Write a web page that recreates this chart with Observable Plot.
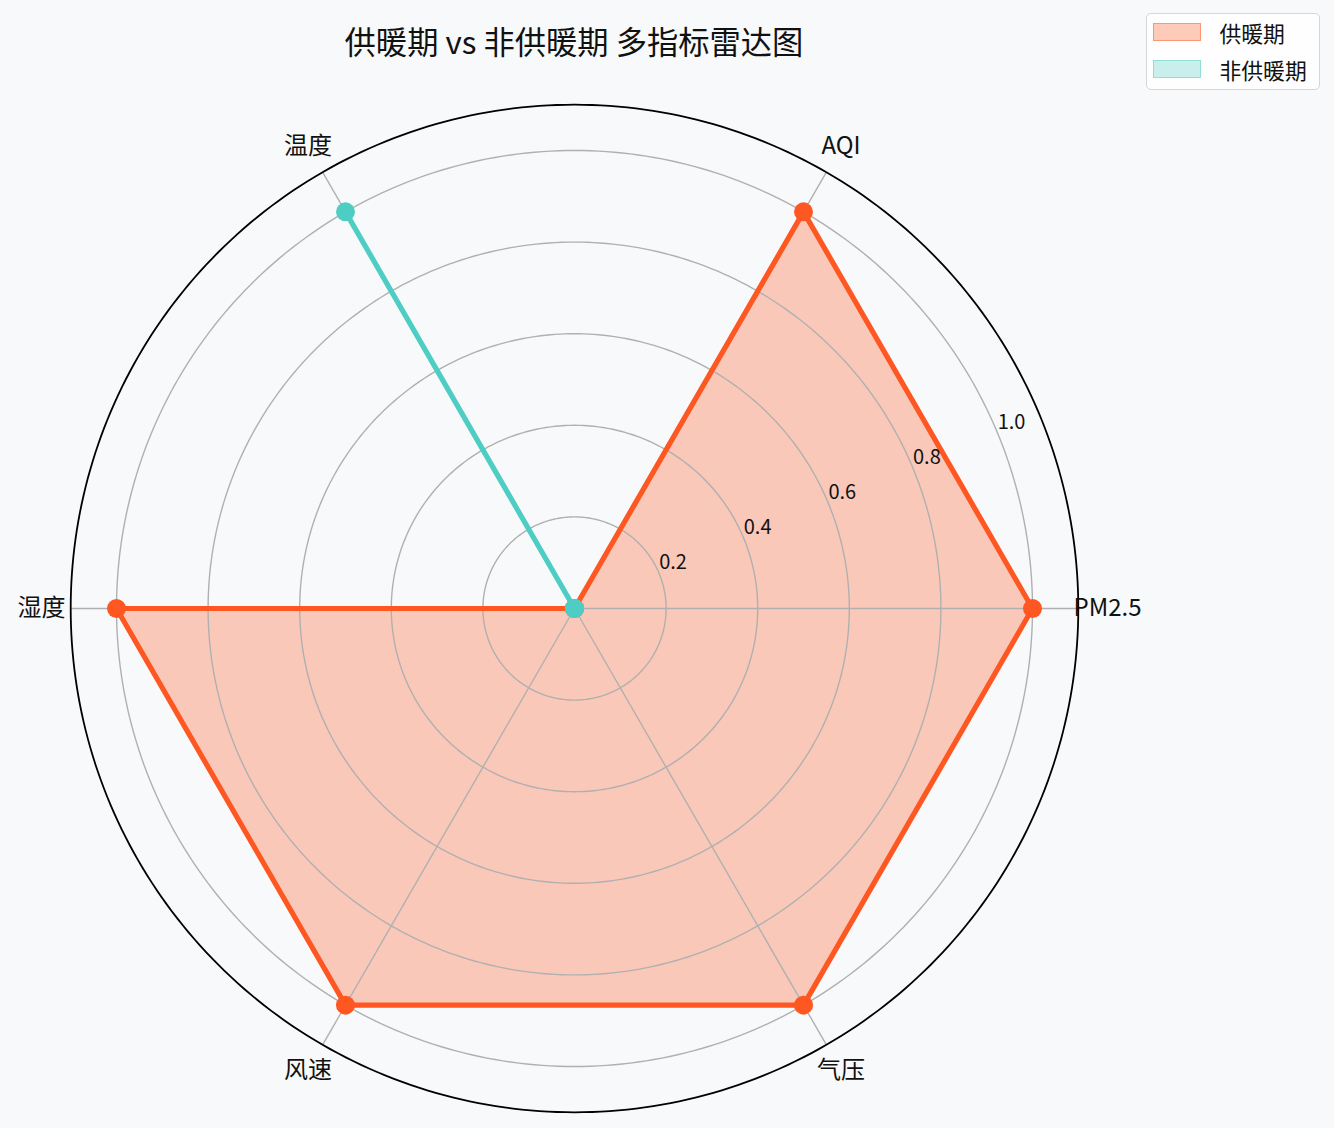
<!DOCTYPE html>
<html>
<head>
<meta charset="utf-8">
<script src="https://cdn.jsdelivr.net/npm/d3@7"></script>
<script src="https://cdn.jsdelivr.net/npm/@observablehq/plot@0.6"></script>
<style>
  html, body { margin: 0; padding: 0; background: #f8f9fa; }
  #wrap { position: relative; width: 1334px; height: 1128px; background: #f8f9fa; font-family: "Noto Sans CJK SC", "Noto Sans", sans-serif; }
  #chart { position: absolute; left: 0; top: 0; }
  #title { position: absolute; left: 0; width: 1148px; top: 19px; text-align: center; font-size: 31.3px; color: #111; line-height: 44px; }
  #legend { position: absolute; left: 1146px; top: 13px; width: 174px; height: 77px; box-sizing: border-box; border: 1.5px solid #d6d6d6; border-radius: 5px; background: rgba(255,255,255,0.8); }
  .item { position: absolute; left: 5.5px; height: 24px; display: flex; align-items: center; font-size: 21.8px; color: #111; white-space: nowrap; }
  .sw { width: 48px; height: 18px; box-sizing: border-box; margin-right: 19px; }
</style>
</head>
<body>
<div id="wrap">
  <div id="chart"></div>
  <div id="title">供暖期 vs 非供暖期 多指标雷达图</div>
  <div id="legend"></div>
</div>
<script>
const categories = ["PM2.5", "AQI", "温度", "湿度", "风速", "气压"];
const heating = [1, 1, 0, 1, 1, 1];
const nonHeating = [0, 0, 1, 0, 0, 0];
const seriesNames = ["供暖期", "非供暖期"];
const seriesColors = ["#FF5722", "#4ECDC4"];
const rTicks = [0.2, 0.4, 0.6, 0.8, 1.0];
const rTickLabels = ["0.2", "0.4", "0.6", "0.8", "1.0"];
const rMax = 1.1;

const W = 1334, H = 1128, cx = 574, cy = 608, unit = 458;
const ang = i => i * 2 * Math.PI / categories.length;
const polar = (r, a) => ({x: r * Math.cos(a), y: r * Math.sin(a)});

function seriesPoly(vals) {
  const pts = vals.map((v, i) => ({...polar(v, ang(i)), v, cat: categories[i]}));
  return {pts, closed: [...pts, pts[0]]};
}
const series = [heating, nonHeating].map((vals, k) => ({...seriesPoly(vals), name: seriesNames[k], color: seriesColors[k]}));

// grid circles
const circleAngles = d3.range(0, 361, 1).map(d => d * Math.PI / 180);
const gridRings = rTicks.map(t => circleAngles.map(a => ({...polar(t, a), t})));
const outerRing = circleAngles.map(a => polar(rMax, a));
const spokes = categories.map((c, i) => { const p = polar(rMax, ang(i)); return {x1: 0, y1: 0, x2: p.x, y2: p.y}; });
const catLabels = categories.map((c, i) => ({...polar(1.164, ang(i)), c}));
const tickLabelPos = rTicks.map((t, i) => ({...polar(t, Math.PI / 8), label: rTickLabels[i]}));

const marks = [];
// fills (patches) first
series.forEach(s => {
  marks.push(Plot.line(s.closed, {x: "x", y: "y", fill: s.color, fillOpacity: 0.3, stroke: "none"}));
});
// grid above patches
gridRings.forEach(ring => marks.push(Plot.line(ring, {x: "x", y: "y", stroke: "#b0b0b0", strokeWidth: 1.4})));
marks.push(Plot.link(spokes, {x1: "x1", y1: "y1", x2: "x2", y2: "y2", stroke: "#b0b0b0", strokeWidth: 1.4}));
// lines and markers
series.forEach(s => {
  marks.push(Plot.line(s.closed, {x: "x", y: "y", stroke: s.color, strokeWidth: 5.2, strokeLinejoin: "miter"}));
  marks.push(Plot.dot(s.pts, {x: "x", y: "y", r: 9.5, fill: s.color, stroke: "none"}));
});
marks.push(Plot.line(outerRing, {x: "x", y: "y", stroke: "#000", strokeWidth: 1.8}));
marks.push(Plot.text(tickLabelPos, {x: "x", y: "y", text: "label", textAnchor: "start", lineAnchor: "bottom", dy: -4, fontSize: 20, fill: "#111"}));
marks.push(Plot.text(catLabels, {x: "x", y: "y", text: "c", textAnchor: "middle", lineAnchor: "middle", fontSize: 24, fill: "#111"}));

const chart = Plot.plot({
  width: W, height: H,
  margin: 0,
  style: {background: "transparent", fontFamily: "'Noto Sans CJK SC', 'Noto Sans', sans-serif"},
  x: {domain: [-cx / unit, (W - cx) / unit], range: [0, W], axis: null},
  y: {domain: [-(H - cy) / unit, cy / unit], range: [H, 0], axis: null},
  marks
});
document.getElementById("chart").appendChild(chart);

const lg = document.getElementById("legend");
seriesNames.forEach((n, k) => {
  const it = document.createElement("div");
  it.className = "item";
  it.style.top = (k === 0 ? 6 : 43) + "px";
  const sw = document.createElement("div");
  sw.className = "sw";
  const c = d3.color(seriesColors[k]);
  sw.style.background = c.copy({opacity: 0.3}).formatRgb();
  sw.style.border = "1.5px solid " + c.copy({opacity: 0.45}).formatRgb();
  it.appendChild(sw);
  const tx = document.createElement("span");
  tx.textContent = n;
  it.appendChild(tx);
  lg.appendChild(it);
});
</script>
</body>
</html>
